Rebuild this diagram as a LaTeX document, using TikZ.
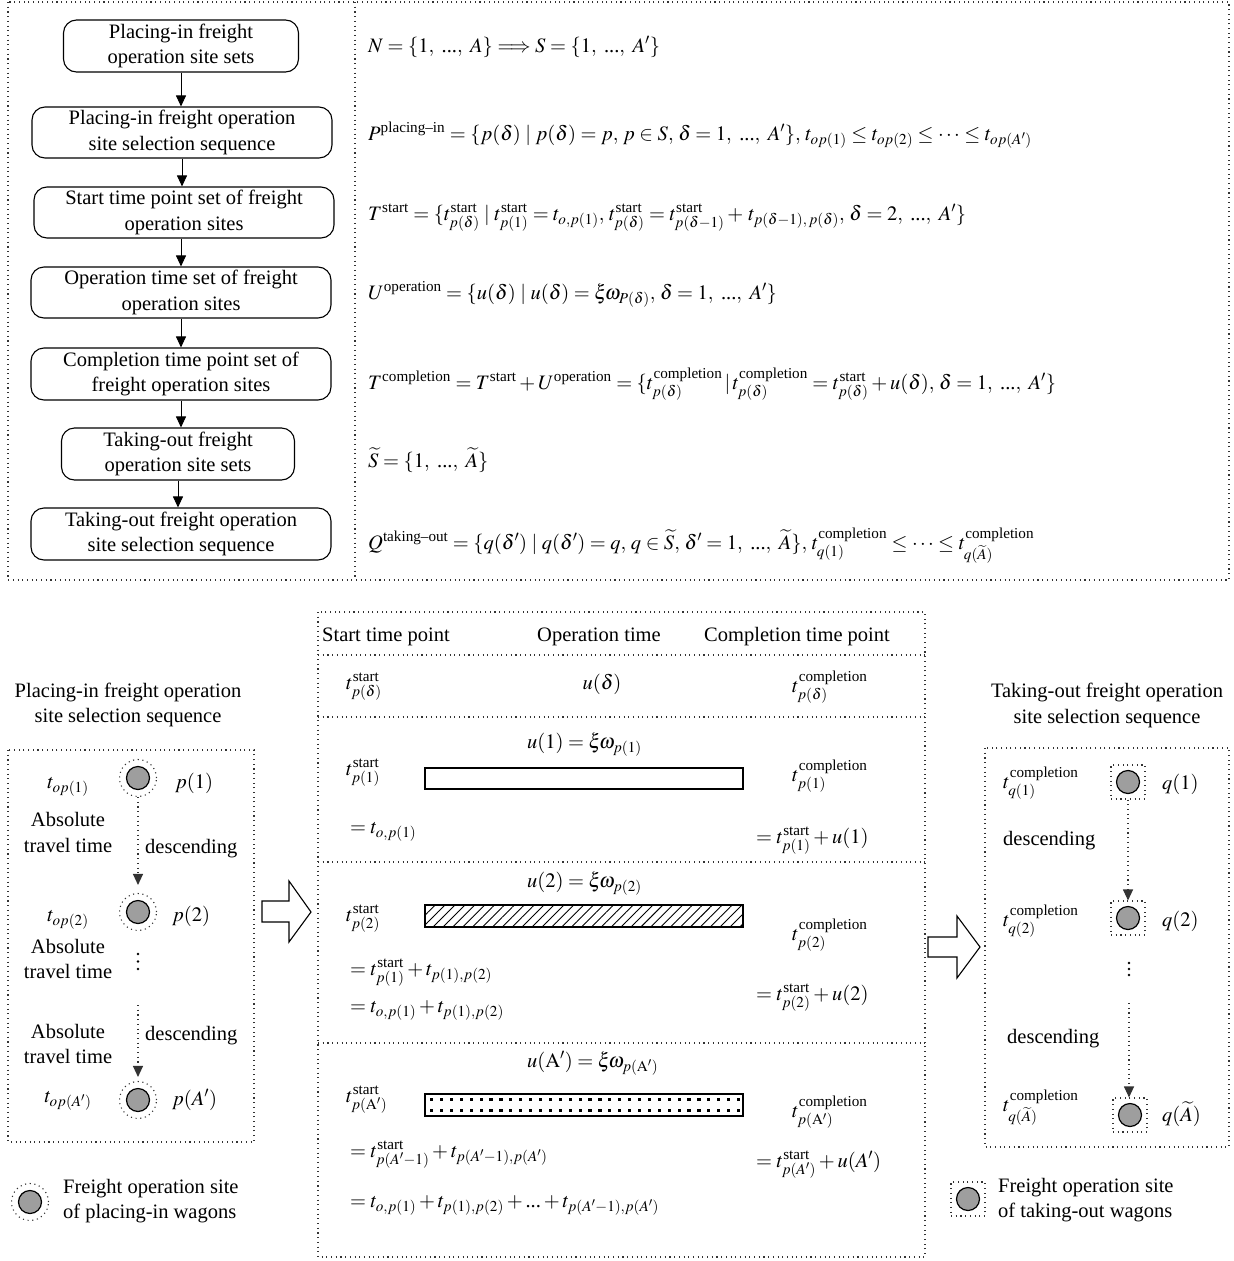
\documentclass[tikz,border=0pt]{standalone}
\usepackage{amsmath}
\usepackage{mathptmx}
\usepackage{fontspec}
\setmainfont{Liberation Serif}
\usetikzlibrary{arrows.meta,patterns.meta}

\newcommand{\tst}[1]{t^{\text{start}}_{#1}}
\newcommand{\tcp}[1]{t^{\text{completion}}_{#1}}
\newcommand{\dts}{\text{...}}
\newcommand{\rng}[2]{#1,\ \dts,\ #2}
\newcommand{\xw}{\xi\!\omega}

\begin{document}
\begin{tikzpicture}[x=1pt,y=-1pt,
  every node/.style={font=\fontsize{20.5}{25.5}\selectfont, inner sep=0pt},
  dotline/.style={draw=black!80, line width=1.1pt, dash pattern=on 1.1pt off 3.6pt},
  flowbox/.style={draw, line width=1.1pt, rounded corners=13pt, align=center,
    minimum width=300pt, minimum height=51pt},
  flowarrow/.style={line width=1pt, -{Triangle[length=11pt,width=10pt]}},
  dotarrow/.style={dotline, -{Triangle[length=11pt,width=10pt]}},
  site/.style={circle, draw, line width=1.2pt, fill=black!38, minimum size=23pt},
  ring/.style={circle, dotline, minimum size=37pt},
  frame/.style={rectangle, dotline, minimum size=34pt},
  bar/.style={draw, line width=1.1pt},
  blockarrow/.style={draw, line width=1.1pt, fill=white, line join=miter},
  lab/.style={anchor=base west},
  clab/.style={anchor=base}
]
\useasboundingbox (0,0) rectangle (1234,1261);

% ---------------- upper panel: procedure and set definitions
\draw[dotline] (8,2) rectangle (1229,580);
\draw[dotline] (355,2) -- (355,580);

\node[flowbox, minimum width=235pt, minimum height=52pt] (b1) at (181,46)
  {Placing-in freight\\operation site sets};
\node[flowbox] (b2) at (182,132.5) {Placing-in freight operation\\site selection sequence};
\node[flowbox] (b3) at (184,212.5) {Start time point set of freight\\operation sites};
\node[flowbox] (b4) at (181,292.5) {Operation time set of freight\\operation sites};
\node[flowbox, minimum height=52pt] (b5) at (181,374) {Completion time point set of\\freight operation sites};
\node[flowbox, minimum width=233pt, minimum height=52pt] (b6) at (178,454)
  {Taking-out freight\\operation site sets};
\node[flowbox, minimum height=52pt] (b7) at (181,534) {Taking-out freight operation\\site selection sequence};

\draw[flowarrow] (b1.south) -- (b1.south |- b2.north);
\draw[flowarrow] (b2.south) -- (b2.south |- b3.north);
\draw[flowarrow] (b4.north |- b3.south) -- (b4.north);
\draw[flowarrow] (b4.south) -- (b4.south |- b5.north);
\draw[flowarrow] (b5.south) -- (b5.south |- b6.north);
\draw[flowarrow] (b6.south) -- (b6.south |- b7.north);

\node[lab] (f1) at (368,52) {$N=\{\rng{1}{A}\}\Longrightarrow S=\{\rng{1}{A'}\}$};
\node[lab] (f2) at (368,140) {$P^{\text{placing–in}}=\{p(\delta)\mid p(\delta)=p,\, p\in S,\, \delta=\rng{1}{A'}\},\, t_{op(1)}\le t_{op(2)}\le\cdots\le t_{op(A')}$};
\node[lab] (f3) at (368,220) {$T^{\text{start}}=\{\tst{p(\delta)}\mid \tst{p(1)}=t_{o,p(1)},\, \tst{p(\delta)}=\tst{p(\delta-1)}+\, t_{p(\delta-1),\,p(\delta)},\, \delta=\rng{2}{A'}\}$};
\node[lab] (f4) at (368,299) {$U^{\text{operation}}=\{u(\delta)\mid u(\delta)=\xw_{P(\delta)},\, \delta=\rng{1}{A'}\}$};
\node[lab] (f5) at (368,389) {$T^{\text{completion}}=T^{\text{start}}+U^{\text{operation}}=\{\tcp{p(\delta)}\,|\,\tcp{p(\delta)}=\tst{p(\delta)}+u(\delta),\, \delta=\rng{1}{A'}\}$};
\node[lab] (f6) at (368,467) {$\widetilde{S}=\{\rng{1}{\widetilde{A}}\}$};
\node[lab] (f7) at (368,549) {$Q^{\text{taking–out}}=\{q(\delta')\mid q(\delta')=q,\, q\in\widetilde{S},\, \delta'=\rng{1}{\widetilde{A}}\},\, \tcp{q(1)}\le\cdots\le\tcp{q(\widetilde{A})}$};

% ---------------- lower middle: time table
\draw[dotline] (318,612) rectangle (925,1257);
\foreach \yy in {655,717,862,1043} \draw[dotline] (318,\yy) -- (925,\yy);

\node[lab] (h1) at (322,641) {Start time point};
\node[lab] (h2) at (537,641) {Operation time};
\node[lab] (h3) at (704,641) {Completion time point};

\node[lab] (g1) at (346,689) {$\tst{p(\delta)}$};
\node[clab] (g2) at (602,689) {$u(\delta)$};
\node[lab] (g3) at (792,692) {$\tcp{p(\delta)}$};

% first site
\node[lab] (u1) at (527,748) {$u(1)=\xw_{p(1)}$};
\node[lab] (s1) at (346,775) {$\tst{p(1)}$};
\draw[bar, fill=white] (425,768) rectangle (743,789);
\node[lab] (c1) at (792,781) {$\tcp{p(1)}$};
\node[lab] (s1e) at (350,833) {$=t_{o,p(1)}$};
\node[lab] (c1e) at (756,843) {$=\tst{p(1)}+u(1)$};

% second site
\node[lab] (u2) at (527,887) {$u(2)=\xw_{p(2)}$};
\node[lab] (s2) at (346,921) {$\tst{p(2)}$};
\fill[pattern={Lines[angle=45,distance=7pt,line width=0.9pt]}] (425,905) rectangle (743,927);
\draw[bar] (425,905) rectangle (743,927);
\node[lab] (c2) at (792,940) {$\tcp{p(2)}$};
\node[lab] (s2e) at (350,975) {$=\tst{p(1)}+t_{p(1),p(2)}$};
\node[lab] (s2f) at (350,1012) {$=t_{o,p(1)}+t_{p(1),p(2)}$};
\node[lab] (c2e) at (756,1000) {$=\tst{p(2)}+u(2)$};

% last site
\node[lab] (u3) at (527,1067) {$u(\mathrm{A}')=\xw_{p(\mathrm{A}')}$};
\node[lab] (s3) at (346,1102) {$\tst{p(\mathrm{A}')}$};
\draw[bar, fill=white] (425,1094) rectangle (743,1116);
\foreach \i in {0,...,31} {
  \fill (430+\i*9.9,1097.5) rectangle ++(3.2,3.2);
  \fill (430+\i*9.9,1109) rectangle ++(3.2,3.2);
}
\draw[bar] (425,1094) rectangle (743,1116);
\node[lab] (c3) at (792,1117) {$\tcp{p(\mathrm{A}')}$};
\node[lab] (s3e) at (350,1157) {$=\tst{p(A'-1)}+t_{p(A'-1),p(A')}$};
\node[lab] (c3e) at (756,1167) {$=\tst{p(A')}+u(A')$};
\node[lab] (s3f) at (350,1207) {$=t_{o,p(1)}+t_{p(1),p(2)}+\dts+t_{p(A'-1),p(A')}$};

% ---------------- lower left: placing-in sequence
\node[clab] (pt1) at (128,697) {Placing-in freight operation};
\node[clab] (pt2) at (128,722) {site selection sequence};
\draw[dotline] (8,750) rectangle (254,1142);

\node[ring] (r1) at (138,778) {};
\node[site] (p1) at (138,778) {};
\node[ring] (r2) at (138,912) {};
\node[site] (p2) at (138,912) {};
\node[ring] (r3) at (138,1100) {};
\node[site] (p3) at (138,1100) {};

\node[clab] (t1) at (68,788) {$t_{op(1)}$};
\node[lab] (n1) at (175,788) {$p(1)$};
\node[clab] (a1) at (68,826) {Absolute};
\node[clab] (a1b) at (68,852) {travel time};
\node[lab] (d1) at (145,853) {descending};
\draw[dotarrow, shorten >=8pt] (r1.south) -- (r2.north);

\node[clab] (t2) at (68,921) {$t_{op(2)}$};
\node[lab] (n2) at (172,921) {$p(2)$};
\node[clab] (a2) at (68,953) {Absolute};
\node[clab] (a2b) at (68,978) {travel time};
\foreach \yy in {954,961.5,969} \fill (138,\yy) circle (1.4pt);

\coordinate (q0) at (138,1005);
\node[clab] (a3) at (68,1038) {Absolute};
\node[clab] (a3b) at (68,1063) {travel time};
\node[lab] (d2) at (145,1040) {descending};
\draw[dotarrow, shorten >=4pt] (q0) -- (r3.north);

\node[clab] (t3) at (68,1102) {$t_{op(A')}$};
\node[lab] (n3) at (172,1105) {$p(A')$};

\node[ring] (lr) at (30,1202) {};
\node[site] (ls) at (30,1202) {};
\node[lab] (l1) at (63,1193) {Freight operation site};
\node[lab] (l2) at (63,1218) {of placing-in wagons};

\draw[blockarrow] (262,901) -- (289,901) -- (289,881) -- (311,912) -- (289,942)
  -- (289,922) -- (262,922) -- cycle;

% ---------------- lower right: taking-out sequence
\node[clab] (qt1) at (1107,697) {Taking-out freight operation};
\node[clab] (qt2) at (1107,723) {site selection sequence};
\draw[dotline] (985,748) rectangle (1229,1147);

\node[frame] (k1) at (1128,782) {};
\node[site] (q1) at (1128,782) {};
\node[frame] (k2) at (1128,918) {};
\node[site] (q2) at (1128,918) {};
\node[frame] (k3) at (1130,1115) {};
\node[site] (q3) at (1130,1115) {};

\node[lab] (e1) at (1003,788) {$\tcp{q(1)}$};
\node[lab] (m1) at (1162,789) {$q(1)$};
\node[lab] (d3) at (1003,845) {descending};
\draw[dotarrow] (k1.south) -- (k2.north);

\node[lab] (e2) at (1003,926) {$\tcp{q(2)}$};
\node[lab] (m2) at (1162,926) {$q(2)$};
\foreach \yy in {963,969,975} \fill (1129,\yy) circle (1.3pt);

\coordinate (w0) at (1129,1003);
\node[lab] (d4) at (1007,1043) {descending};
\draw[dotarrow] (w0) -- (w0 |- k3.north);

\node[lab] (e3) at (1003,1111) {$\tcp{q(\widetilde{A})}$};
\node[lab] (m3) at (1162,1121) {$q(\widetilde{A})$};

\node[frame] (lk) at (968,1199) {};
\node[site] (lq) at (968,1199) {};
\node[lab] (l3) at (998,1192) {Freight operation site};
\node[lab] (l4) at (998,1217) {of taking-out wagons};

\draw[blockarrow] (928,937) -- (957,937) -- (957,916) -- (980,947) -- (957,978)
  -- (957,957) -- (928,957) -- cycle;
\end{tikzpicture}
\end{document}
